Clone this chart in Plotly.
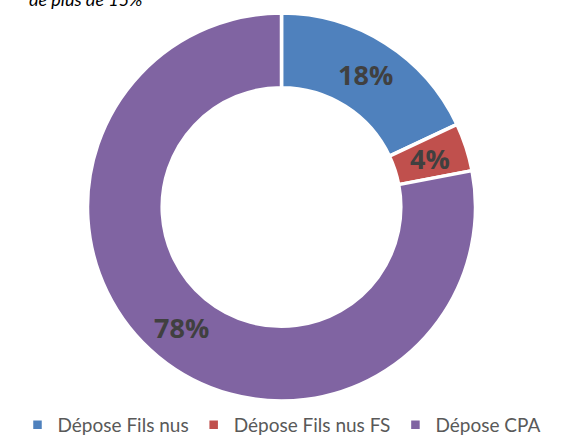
import math
import plotly.graph_objects as go

labels = ["Dépose Fils nus", "Dépose Fils nus FS", "Dépose CPA"]
values = [18, 4, 78]
colors = ["#4F81BD", "#C0504D", "#8064A2"]
title_text = "de plus de 15%"

W, H = 563, 439
M_T, M_B = 13, 38
HOLE = 0.615
plot_h = H - M_T - M_B
R = min(W, plot_h) / 2
r_mid = (R + R * HOLE) / 2

fig = go.Figure(go.Pie(
    labels=labels, values=values, sort=False, direction="clockwise",
    hole=HOLE, textinfo="none",
    marker=dict(colors=colors, line=dict(color="white", width=3.5)),
))

total = sum(values)
cum = 0
for lab, v in zip(labels, values):
    th = 2 * math.pi * (cum + v / 2) / total
    cum += v
    fig.add_annotation(
        x=0.5 + r_mid * math.sin(th) / W, y=0.5 + r_mid * math.cos(th) / plot_h,
        xref="paper", yref="paper", xanchor="center", yanchor="middle",
        showarrow=False,
        text=f"{round(100 * v / total)}%",
        font=dict(family="Open Sans", size=27, color="#404040", weight=700),
    )

fig.add_annotation(
    x=144 / W, xref="paper", xanchor="right",
    y=1, yref="paper", yanchor="bottom", yshift=1,
    showarrow=False, text=f"<i>{title_text}</i>",
    font=dict(family="Lato", size=18, color="#000000"),
)

fig.update_layout(
    width=W, height=H,
    margin=dict(l=0, r=0, t=M_T, b=M_B, autoexpand=False),
    paper_bgcolor="white", plot_bgcolor="white",
    showlegend=True,
    legend=dict(orientation="h", x=0.5, xanchor="center", y=(-24) / plot_h, yref="paper",
                yanchor="middle", font=dict(family="Lato", size=19, color="#595959"),
                itemwidth=30, tracegroupgap=0),
)

fig.write_html("out.html", config={"displayModeBar": False},
               post_script="document.body.style.margin='0';")
